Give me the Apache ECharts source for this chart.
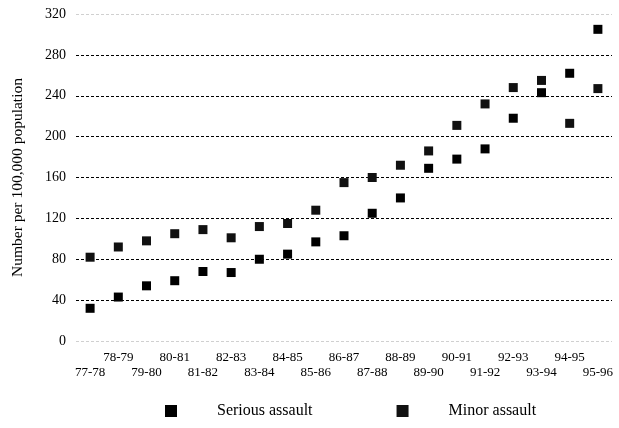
<!DOCTYPE html>
<html><head><meta charset="utf-8">
<script src="https://cdn.jsdelivr.net/npm/echarts@6/dist/echarts.min.js"></script>
<style>html,body{margin:0;padding:0;background:#fff}#c{width:619px;height:428px}</style>
</head><body><div id="c"></div>
<script>
const categories = ['77-78','78-79','79-80','80-81','81-82','82-83','83-84','84-85','85-86','86-87','87-88','88-89','89-90','90-91','91-92','92-93','93-94','94-95','95-96'];
const seriousAssault = [32,43,54,59,68,67,80,85,97,103,125,140,169,178,188,218,243,262,305];
const minorAssault = [82,92,98,105,109,101,112,115,128,155,160,172,186,211,232,248,255,213,247];
const yTicks = [0,40,80,120,160,200,240,280,320];

const font = '"Liberation Serif","DejaVu Serif",serif';
const chart = echarts.init(document.getElementById('c'), null, {renderer:'canvas'});
chart.setOption({
  animation:false,
  backgroundColor:'#fff',
  textStyle:{fontFamily:font,color:'#000'},
  grid:{left:76,right:7,top:14,bottom:87},
  xAxis:{
    type:'category', data:categories, boundaryGap:true,
    axisLine:{show:false}, axisTick:{show:false},
    axisLabel:{interval:0, fontFamily:font, fontSize:13, color:'#000', margin:9, lineHeight:15,
      formatter:(v,i)=> (i%2===0 ? '\n'+v : v+'\n')}
  },
  yAxis:{
    type:'value', min:yTicks[0], max:yTicks[yTicks.length-1], interval:40,
    name:'Number per 100,000 population', nameLocation:'middle', nameGap:50,
    nameTextStyle:{fontFamily:font,fontSize:15.5,color:'#000'},
    axisLine:{show:false}, axisTick:{show:false},
    axisLabel:{fontFamily:font,fontSize:14,color:'#000',margin:10},
    splitLine:{show:true,lineStyle:{type:[3,2],width:1,
      color:['#d0d0d0','#000','#000','#000','#000','#000','#000','#000','#d0d0d0']}}
  },
  legend:{
    left:160, top:398, itemWidth:12, itemHeight:12, itemGap:84,
    icon:'rect',
    textStyle:{fontFamily:font,fontSize:16,color:'#000',padding:[0,0,0,35]},
    data:['Serious assault','Minor assault']
  },
  series:[
    {name:'Serious assault',type:'scatter',data:seriousAssault,symbol:'rect',symbolSize:9,
      itemStyle:{color:'#000',opacity:1}},
    {name:'Minor assault',type:'scatter',data:minorAssault,symbol:'rect',symbolSize:9,
      itemStyle:{color:'#111',opacity:1}}
  ]
});
</script></body></html>
